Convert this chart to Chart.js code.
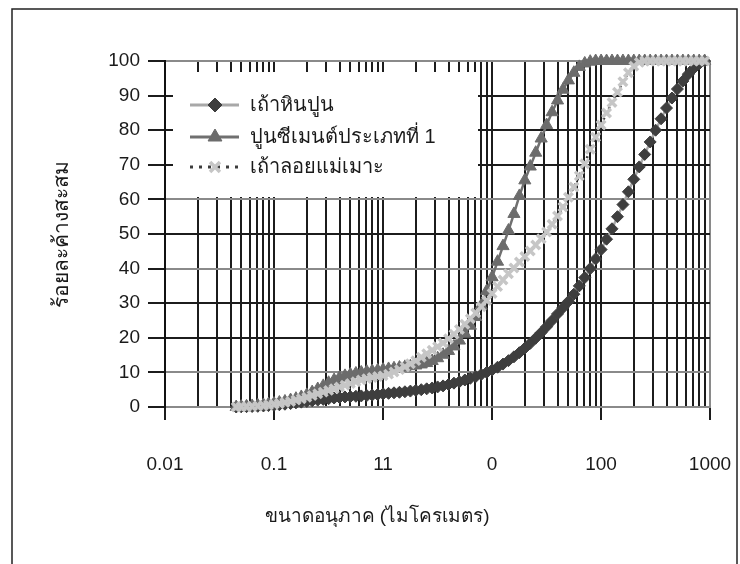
<!DOCTYPE html>
<html lang="th">
<head>
    <meta charset="UTF-8">
    <style>
        * { margin: 0; padding: 0; box-sizing: border-box; }
        body { background: #fff; width: 740px; height: 564px; overflow: hidden; }
    </style>
</head>
<body>
    <canvas id="psdChart" width="740" height="564"></canvas>

    <script src="https://cdn.jsdelivr.net/npm/chart.js"></script>
    <script>
        // particle size bins (micron)
        const sizes = [0.045, 0.050, 0.056, 0.063, 0.071, 0.080, 0.089,
            0.100, 0.112, 0.126, 0.142, 0.159, 0.178, 0.200, 0.224, 0.252, 0.283, 0.317, 0.356, 0.399, 0.448, 0.502, 0.564, 0.632, 0.710, 0.796, 0.893,
            1.002, 1.125, 1.262, 1.416, 1.589, 1.783, 2.000, 2.244, 2.518, 2.825, 3.170, 3.557, 3.991, 4.477, 5.024, 5.637, 6.325, 7.096, 7.962, 8.934,
            10.02, 11.25, 12.62, 14.16, 15.89, 17.83, 20.00, 22.44, 25.18, 28.25, 31.70, 35.57, 39.91, 44.77, 50.24, 56.37, 63.25, 70.96, 79.62, 89.34,
            100.2, 112.5, 126.2, 141.6, 158.9, 178.3, 200.0, 224.4, 251.8, 282.5, 317.0, 355.7, 399.1, 447.7, 502.4, 563.7, 632.5, 709.6, 796.2, 893.4];

        const limestoneAsh = [0, 0.05, 0.1, 0.15, 0.2, 0.3, 0.4,
            0.5, 0.65, 0.8, 1.0, 1.2, 1.4, 1.6, 1.8, 2.0, 2.2, 2.4, 2.6, 2.75, 2.9, 3.0, 3.1, 3.2, 3.3, 3.45, 3.6,
            3.8, 3.95, 4.1, 4.25, 4.4, 4.6, 4.8, 5.0, 5.25, 5.5, 5.8, 6.1, 6.5, 6.9, 7.3, 7.8, 8.3, 8.8, 9.4, 10.0,
            10.7, 11.5, 12.4, 13.4, 14.5, 15.7, 17.0, 18.4, 19.9, 21.5, 23.2, 25.0, 26.9, 28.7, 30.5, 32.6, 35.0, 37.4, 40.0, 42.8,
            45.5, 48.5, 51.5, 55.0, 58.5, 62.2, 65.8, 69.4, 73.0, 76.6, 80.0, 83.3, 86.4, 89.3, 91.9, 94.2, 96.2, 97.9, 99.2, 100];

        const cementType1 = [0, 0.1, 0.2, 0.3, 0.45, 0.6, 0.8,
            1.0, 1.3, 1.6, 2.0, 2.4, 2.9, 3.5, 4.3, 5.2, 6.1, 7.0, 7.8, 8.5, 9.0, 9.4, 9.7, 10.0, 10.2, 10.4, 10.6,
            10.8, 11.0, 11.2, 11.4, 11.6, 11.8, 12.0, 12.3, 12.7, 13.3, 14.1, 15.1, 16.2, 17.5, 19.2, 21.2, 23.5, 26.0, 29.3, 33.5,
            37.5, 42.0, 46.5, 51.0, 55.8, 61.0, 65.5, 69.5, 73.5, 77.6, 81.5, 85.2, 88.6, 91.7, 94.4, 96.6, 98.3, 99.3, 99.8, 100,
            100, 100, 100, 100, 100, 100, 100, 100, 100, 100, 100, 100, 100, 100, 100, 100, 100, 100, 100, 100];

        const maeMohFlyAsh = [0, 0.05, 0.1, 0.2, 0.3, 0.4, 0.6,
            0.8, 1.0, 1.3, 1.6, 2.0, 2.4, 2.8, 3.3, 3.8, 4.3, 4.8, 5.3, 5.8, 6.3, 6.8, 7.3, 7.8, 8.2, 8.5, 8.8,
            9.0, 9.5, 10.1, 10.8, 11.6, 12.5, 13.4, 14.4, 15.4, 16.4, 17.4, 18.5, 19.7, 21.0, 22.4, 23.9, 25.5, 27.2, 29.0, 30.8,
            32.8, 34.8, 36.7, 38.5, 40.2, 41.9, 43.5, 45.1, 46.8, 48.6, 50.6, 52.8, 55.2, 57.8, 60.6, 63.6, 66.8, 70.3, 74.5, 78.0,
            81.5, 85.0, 88.0, 91.0, 94.0, 96.6, 98.5, 99.6, 100, 100, 100, 100, 100, 100, 100, 100, 100, 100, 100, 100];

        const seriesNames = ["เถ้าหินปูน", "ปูนซีเมนต์ประเภทที่ 1", "เถ้าลอยแม่เมาะ"];
        const decades = [0.01, 0.1, 1, 10, 100, 1000];
        const decadeLabels = ["0.01", "0.1", "11", "0", "100", "1000"];
        const xTitle = "ขนาดอนุภาค (ไมโครเมตร)";
        const yTitle = "ร้อยละค้างสะสม";

        const FONT = "'Liberation Sans', Arial, 'Noto Sans', sans-serif";

        // grid at 1..9 of every decade
        const gridValues = [];
        decades.forEach((d, i) => {
            if (i === decades.length - 1) { gridValues.push(d); return; }
            for (let m = 1; m <= 9; m++) gridValues.push(d * m);
        });
        const grayRows = [0, 10, 40, 60, 100];

        const seriesData = [limestoneAsh, cementType1, maeMohFlyAsh];
        const seriesStyle = [
            { line: "#a8a8a8", dash: [], point: "rectRot", radius: 6, fill: "#3e3e3e", stroke: "#3e3e3e", pw: 1 },
            { line: "#707070", dash: [], point: "triangle", radius: 7, fill: "#6c6c6c", stroke: "#6c6c6c", pw: 1 },
            { line: "#3c3c3c", dash: [2, 4], point: "crossRot", radius: 6, fill: "#c6c6c6", stroke: "#c6c6c6", pw: 3.5 }
        ];

        const decor = {
            id: "decor",
            beforeDraw(chart) {
                const c = chart.ctx;
                c.save();
                c.fillStyle = "#fff";
                c.fillRect(0, 0, chart.width, chart.height);
                c.strokeStyle = "#222";
                c.lineWidth = 1.5;
                c.beginPath();
                c.moveTo(12, chart.height + 5);
                c.lineTo(12, 9);
                c.lineTo(737, 9);
                c.lineTo(737, chart.height + 5);
                c.stroke();
                c.restore();
            },
            beforeDatasetsDraw(chart) {
                const c = chart.ctx;
                const a = chart.chartArea;
                const box = { l: a.left + 8, t: a.top + 11, r: a.left + 313, b: a.top + 136 };
                c.save();
                c.fillStyle = "#fff";
                c.fillRect(box.l, box.t, box.r - box.l, box.b - box.t);
                const rows = [a.top + 44, a.top + 76, a.top + 106];
                seriesNames.forEach((name, i) => {
                    const s = seriesStyle[i];
                    const y = rows[i];
                    c.strokeStyle = s.line;
                    c.lineWidth = 3;
                    c.setLineDash(s.dash.length ? [3, 6] : []);
                    c.beginPath();
                    c.moveTo(a.left + 25, y);
                    c.lineTo(a.left + 74, y);
                    c.stroke();
                    c.setLineDash([]);
                    c.fillStyle = s.fill;
                    c.strokeStyle = s.stroke;
                    c.lineWidth = s.pw;
                    Chart.helpers.drawPoint(c, { pointStyle: s.point, radius: s.radius + 1, borderWidth: s.pw }, a.left + 50, y);
                    c.fillStyle = "#1a1a1a";
                    c.font = "20px " + FONT;
                    c.textBaseline = "middle";
                    c.textAlign = "left";
                    c.fillText(name, a.left + 85, y);
                });
                c.restore();
            },
            afterDraw(chart) {
                const c = chart.ctx;
                const a = chart.chartArea;
                c.save();
                c.fillStyle = "#1a1a1a";
                c.font = "19px " + FONT;
                c.textAlign = "center";
                c.textBaseline = "middle";
                c.fillText(xTitle, chart.scales.x.getPixelForValue(1) - 6, 517);
                c.font = "21px " + FONT;
                c.translate(62, (a.top + a.bottom) / 2);
                c.rotate(-Math.PI / 2);
                c.fillText(yTitle, 0, 0);
                c.restore();
            }
        };

        new Chart("psdChart", {
            type: "line",
            data: {
                datasets: seriesData.map((vals, i) => ({
                    label: seriesNames[i],
                    data: sizes.map((s, k) => ({ x: s, y: vals[k] })),
                    borderColor: seriesStyle[i].line,
                    borderWidth: 2.5,
                    borderDash: seriesStyle[i].dash,
                    pointStyle: seriesStyle[i].point,
                    pointRadius: seriesStyle[i].radius,
                    pointBackgroundColor: seriesStyle[i].fill,
                    pointBorderColor: seriesStyle[i].stroke,
                    pointBorderWidth: seriesStyle[i].pw,
                    tension: 0,
                    fill: false,
                    clip: false,
                    order: 3 - i
                }))
            },
            options: {
                responsive: false,
                animation: false,
                devicePixelRatio: 1,
                layout: { padding: { top: 61, right: 30, left: 0, bottom: 0 } },
                plugins: {
                    legend: { display: false },
                    tooltip: { enabled: false }
                },
                scales: {
                    x: {
                        type: "logarithmic",
                        min: 0.01,
                        max: 1000,
                        afterFit(scale) {
                            scale.height = 157;
                            scale.paddingLeft = 0;
                            scale.paddingRight = 0;
                        },
                        afterBuildTicks(scale) {
                            scale.ticks = gridValues.map(v => ({ value: v }));
                        },
                        grid: {
                            color: ctx => (ctx.tick && ctx.tick.value === 1000) ? "#8a8a8a" : "#1c1c1c",
                            lineWidth: 2,
                            tickLength: 13,
                            tickColor: ctx => (ctx.tick && decades.includes(ctx.tick.value)) ? "#1c1c1c" : "rgba(0,0,0,0)"
                        },
                        border: { color: "#8a8a8a", width: 2 },
                        ticks: {
                            autoSkip: false,
                            maxRotation: 0,
                            minRotation: 0,
                            padding: 33,
                            color: "#1a1a1a",
                            font: { family: FONT, size: 19 },
                            callback: v => {
                                const k = decades.indexOf(v);
                                return k >= 0 ? decadeLabels[k] : "";
                            }
                        }
                    },
                    y: {
                        min: 0,
                        max: 100,
                        afterFit(scale) {
                            scale.width = 165;
                            scale.paddingTop = 0;
                            scale.paddingBottom = 0;
                        },
                        grid: {
                            color: ctx => (ctx.tick && grayRows.includes(ctx.tick.value)) ? "#8a8a8a" : "#1c1c1c",
                            lineWidth: 2,
                            tickLength: 17,
                            tickColor: "#1c1c1c"
                        },
                        border: { color: "#111", width: 2 },
                        ticks: {
                            stepSize: 10,
                            padding: 8,
                            color: "#1a1a1a",
                            font: { family: FONT, size: 19 }
                        }
                    }
                }
            },
            plugins: [decor]
        });
    </script>
</body>
</html>
